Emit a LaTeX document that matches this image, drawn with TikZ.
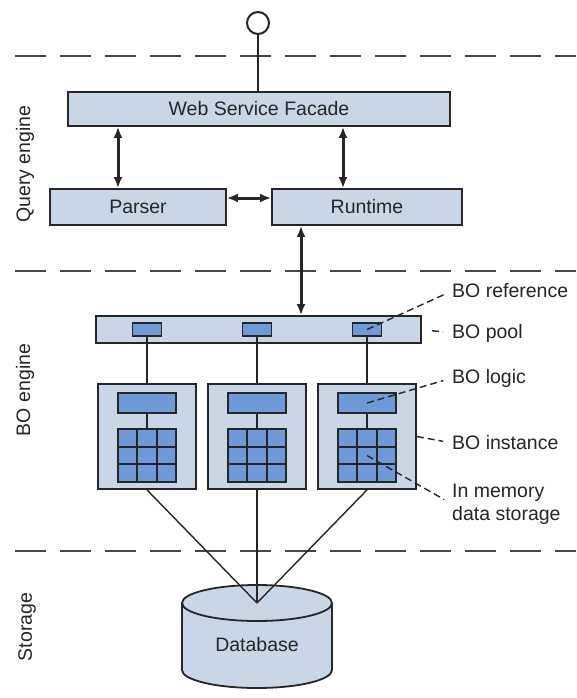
\documentclass[tikz,border=0pt]{standalone}
\usepackage{fontspec}
\setmainfont{Liberation Sans}
\usetikzlibrary{arrows.meta,calc}
\definecolor{light}{HTML}{C9D6E6}
\definecolor{dark}{HTML}{6E9BD8}
\definecolor{ink}{HTML}{262626}
\begin{document}
\begin{tikzpicture}[x=1pt,y=-1pt,
  font=\fontsize{19.5}{23}\selectfont,
  box/.style={draw=ink, line width=1.8pt, fill=light, inner sep=0, text=ink},
  inner/.style={draw=ink, line width=1.7pt, fill=dark, inner sep=0},
  gridbox/.style={draw=ink, line width=2.2pt, fill=dark, inner sep=0,
    minimum width=58pt, minimum height=53pt,
    path picture={
      \foreach \t in {1,2}{
        \draw[ink, line width=2.2pt]
          ($(path picture bounding box.north west)!\t/3!(path picture bounding box.north east)$) --
          ($(path picture bounding box.south west)!\t/3!(path picture bounding box.south east)$);
        \draw[ink, line width=2.2pt]
          ($(path picture bounding box.north west)!\t/3!(path picture bounding box.south west)$) --
          ($(path picture bounding box.north east)!\t/3!(path picture bounding box.south east)$);
      }}},
  biarrow/.style={{Latex[length=11pt,width=9pt]}-{Latex[length=11pt,width=9pt]}, line width=3pt, draw=ink},
  conn/.style={draw=ink, line width=1.4pt},
  sepline/.style={draw=ink!85, line width=1.8pt, dash pattern=on 31pt off 14pt},
  annot/.style={draw=ink, line width=1.4pt, dash pattern=on 7pt off 4pt, shorten >=9pt},
  lab/.style={inner sep=0, anchor=west, text=ink, align=left},
  side/.style={rotate=90, text=ink}]
\useasboundingbox (0,0) rectangle (576,698);
\fill[white] (0,0) rectangle (576,698);

% separators
\draw[sepline] (15,56) -- (576,56);
\draw[sepline] (15,271) -- (576,271);
\draw[sepline] (15,551) -- (576,551);

% side labels
\node[side] (qe) at (25,164) {Query engine};
\node[side] (boe) at (25,390) {BO engine};
\node[side] (st) at (27,627) {Storage};

% query engine
\node[box, minimum width=382pt, minimum height=34pt] (facade) at (259,109) {Web Service Facade};
\node[box, minimum width=176pt, minimum height=36pt] (parser) at (138,207) {Parser};
\node[box, minimum width=190pt, minimum height=36pt] (runtime) at (367,207) {Runtime};
\node[circle, draw=ink, line width=2pt, minimum size=22pt, inner sep=0, fill=white] (iface) at (258,23) {};
\draw[conn, line width=2pt] (iface) -- (iface |- facade.north);

\draw[biarrow] ([xshift=-20pt]parser.north) -- ([xshift=-20pt]parser.north |- facade.south);
\draw[biarrow] ([xshift=-24pt]runtime.north) -- ([xshift=-24pt]runtime.north |- facade.south);
\draw[biarrow] ([yshift=9pt]parser.east) -- ([yshift=9pt]runtime.west);

% BO engine
\node[box, minimum width=325pt, minimum height=27pt] (pool) at (258.5,329.5) {};
\draw[biarrow] ([xshift=-66pt]runtime.south) -- ([xshift=-66pt]runtime.south |- pool.north);

\foreach \i/\x in {1/147,2/257,3/367}{
  \node[inner, minimum width=29pt, minimum height=13pt] (r\i) at (\x,329.5) {};
  \node[box, minimum width=98pt, minimum height=105pt] (b\i) at (\x,436.5) {};
  \node[inner, minimum width=58pt, minimum height=20pt] (l\i) at (\x,403) {};
  \node[gridbox] (g\i) at (\x,455.5) {};
  \draw[conn] (r\i.south) -- (b\i.north);
  \draw[conn] (l\i.south) -- (g\i.north);
}

% storage
\fill[light] (182,603) -- (182,670) arc[start angle=180, end angle=360, x radius=75pt, y radius=18pt]
  -- (332,603) arc[start angle=0, end angle=180, x radius=75pt, y radius=18pt] -- cycle;
\draw[ink, line width=1.8pt] (182,603) -- (182,670) arc[start angle=180, end angle=360, x radius=75pt, y radius=18pt]
  -- (332,603) arc[start angle=0, end angle=180, x radius=75pt, y radius=18pt] -- cycle;
\draw[ink, line width=1.8pt] (182,603) arc[start angle=180, end angle=360, x radius=75pt, y radius=18pt];
\node[text=ink] (db) at (257,645) {Database};
\coordinate (dbtop) at (257,603);
\foreach \i in {1,2,3}{
  \draw[conn] (b\i.south) -- (dbtop);
}

% annotations
\node[lab] (lref) at (452,291) {BO reference};
\node[lab] (lpool) at (452,333) {BO pool};
\node[lab] (llogic) at (452,378) {BO logic};
\node[lab] (linst) at (452,443) {BO instance};
\node[lab] (lmem) at (452,504) {In memory\\data storage};

\draw[annot] (r3.center) -- (lref.west);
\draw[annot, shorten <=10pt] (pool.east) -- (lpool.west);
\draw[annot] (l3.center) -- (llogic.west);
\draw[annot] (b3.east) -- (linst.west);
\draw[annot] (g3.center) -- (lmem.west);
\end{tikzpicture}
\end{document}
